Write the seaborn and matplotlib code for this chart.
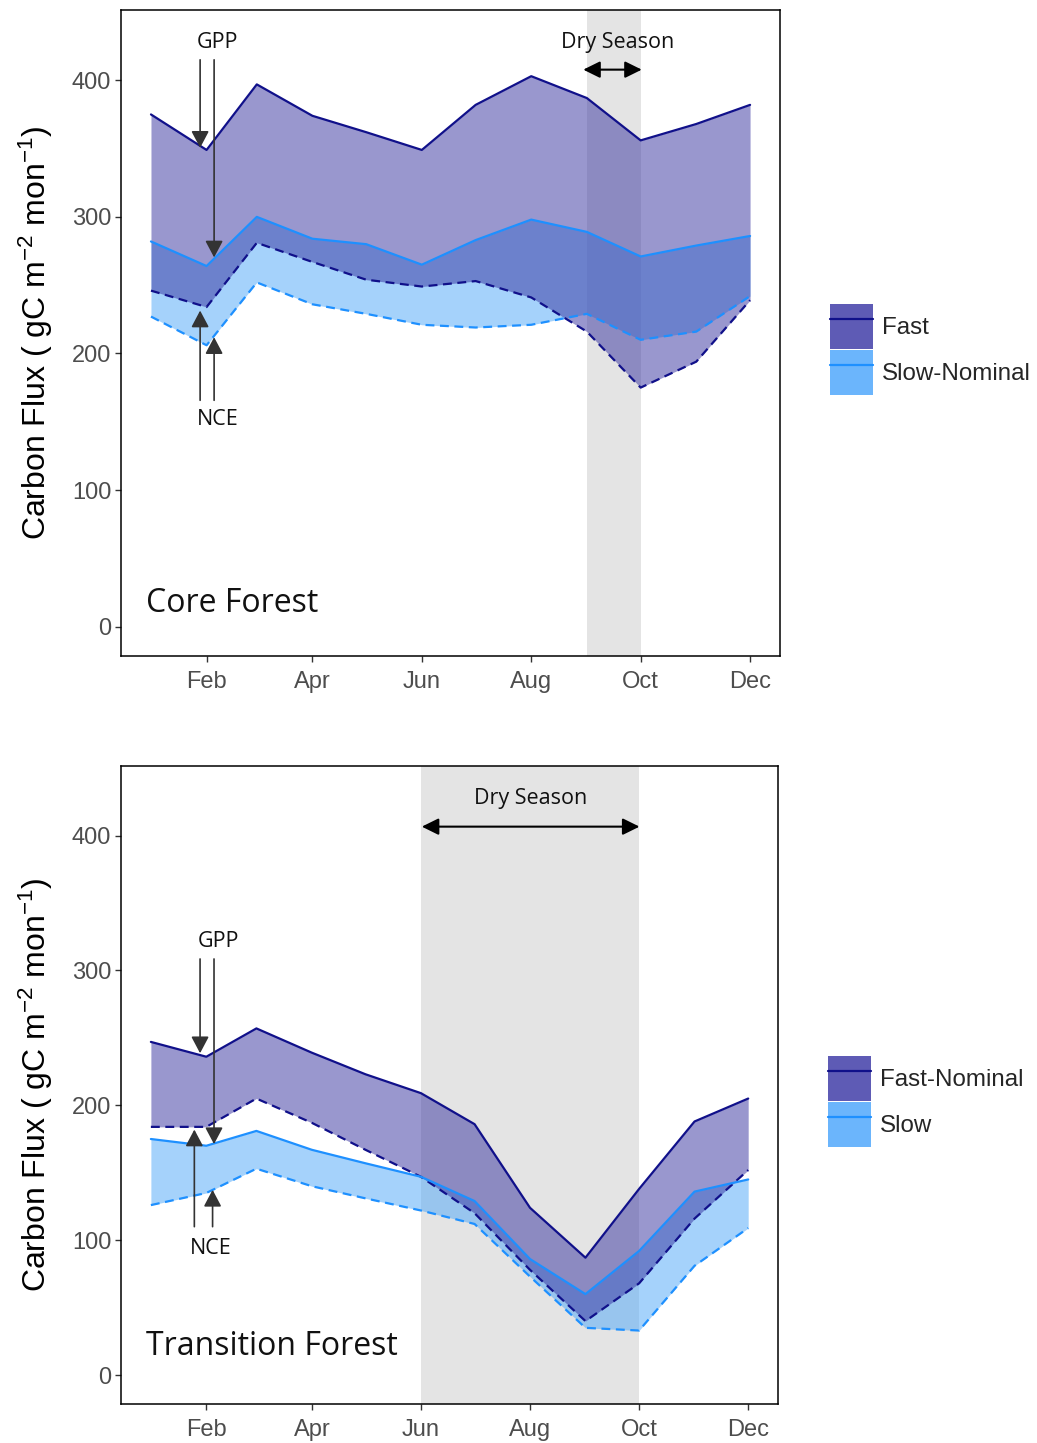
import numpy as np
import pandas as pd
import matplotlib
matplotlib.use("Agg")
import matplotlib.pyplot as plt
import seaborn as sns
from matplotlib.patches import Patch
from matplotlib.lines import Line2D

# ---------------- data ----------------
days = [0, 31, 59, 90, 120, 151, 181, 212, 243, 273, 304, 334]   # first day of each month
tick_days = [31, 90, 151, 212, 273, 334]
tick_labels = ["Feb", "Apr", "Jun", "Aug", "Oct", "Dec"]
y_ticks = [0, 100, 200, 300, 400]

core_fast_gpp = [375, 349, 397, 374, 362, 349, 382, 403, 387, 356, 368, 382]
core_fast_nce = [246, 234, 281, 267, 254, 249, 253, 241, 216, 175, 194, 239]
core_slow_gpp = [282, 264, 300, 284, 280, 265, 283, 298, 289, 271, 279, 286]
core_slow_nce = [227, 206, 252, 236, 229, 221, 219, 221, 229, 210, 216, 242]

trans_fast_gpp = [247, 236, 257, 239, 223, 209, 186, 124, 87, 138, 188, 205]
trans_fast_nce = [184, 184, 205, 187, 167, 147, 120, 78, 40, 68, 116, 152]
trans_slow_gpp = [175, 170, 181, 167, 157, 147, 129, 86, 60, 92, 136, 145]
trans_slow_nce = [126, 135, 153, 140, 131, 122, 112, 73, 35, 33, 81, 109]

core_dry = (243, 273)
trans_dry = (151, 273)

core_labels = ["Fast", "Slow-Nominal"]
trans_labels = ["Fast-Nominal", "Slow"]

# ---------------- style ----------------
sns.set_theme(style="white")
plt.rcParams["font.family"] = ["Liberation Sans", "DejaVu Sans"]
plt.rcParams["mathtext.fontset"] = "custom"
plt.rcParams["mathtext.rm"] = "Liberation Sans"
plt.rcParams["mathtext.it"] = "Liberation Sans"
plt.rcParams["mathtext.default"] = "regular"

NAVY = "#10108a"
DBLUE = "#1e90ff"
FAST_FILL = (53 / 255, 49 / 255, 159 / 255, 0.5)
SLOW_FILL = (77 / 255, 167 / 255, 249 / 255, 0.5)
FAST_KEY = "#5e5bb5"
SLOW_KEY = "#6bb5fc"
DRY = "#e4e4e4"
ANN = "Open Sans"

fig = plt.figure(figsize=(10.37, 14.43), dpi=100)
ax1 = fig.add_axes([0.1167, 0.5454, 0.6355, 0.4477])
ax2 = fig.add_axes([0.1167, 0.0270, 0.6336, 0.4421])


def make_long(fg, fn, sg, sn):
    rows = []
    for model, g, n in (("Fast", fg, fn), ("Slow", sg, sn)):
        for d, a, b in zip(days, g, n):
            rows.append((d, a, model, "GPP"))
            rows.append((d, b, model, "NCE"))
    return pd.DataFrame(rows, columns=["day", "value", "model", "flux"])


def arrow(ax, tail, tip, color="#333333", lw=1.2, style="-|>,head_length=0.85,head_width=0.45", ms=12):
    ax.annotate("", xy=tip, xytext=tail,
                arrowprops=dict(arrowstyle=style, color=color, lw=lw,
                                shrinkA=0, shrinkB=0, mutation_scale=ms))


def panel(ax, fg, fn, sg, sn, dry, labels, title, title_y):
    ax.axvspan(dry[0], dry[1], color=DRY, lw=0, zorder=0)
    ax.fill_between(days, sg, sn, color=SLOW_FILL, lw=0, zorder=1)
    ax.fill_between(days, fg, fn, color=FAST_FILL, lw=0, zorder=2)
    df = make_long(fg, fn, sg, sn)
    sns.lineplot(data=df, x="day", y="value", hue="model", style="flux",
                 palette={"Fast": NAVY, "Slow": DBLUE},
                 dashes={"GPP": "", "NCE": (4, 2.5)},
                 linewidth=1.6, errorbar=None, legend=False, ax=ax, zorder=3)
    ax.set_xlim(-16.7, 350.7)
    ax.set_ylim(-21.5, 451.5)
    ax.set_xticks(tick_days)
    ax.set_xticklabels(tick_labels)
    ax.set_yticks(y_ticks)
    ax.set_xlabel("")
    ax.set_ylabel("Carbon Flux ( gC m$^{-2}$ mon$^{-1}$)", fontsize=23, color="black")
    ax.yaxis.set_label_coords(-0.100, 0.5)
    ax.tick_params(axis="both", which="major", length=4.5, width=1.0, color="#333333",
                   labelsize=17, labelcolor="#4d4d4d", pad=2.5, bottom=True, left=True,
                   direction="out")
    ax.tick_params(axis="x", pad=6)
    for s in ax.spines.values():
        s.set_color("black")
        s.set_linewidth(1.1)
        s.set_zorder(5)
    ax.text(-2.6, title_y, title, fontsize=23, family=ANN,
            ha="left", va="baseline", color="#111111", zorder=6)
    handles = [
        (Patch(facecolor=FAST_KEY, edgecolor="none"), Line2D([], [], color=NAVY, lw=1.6)),
        (Patch(facecolor=SLOW_KEY, edgecolor="none"), Line2D([], [], color=DBLUE, lw=1.6)),
    ]
    ax.legend(handles, labels, loc="center left", bbox_to_anchor=(1.076, 0.474),
              frameon=False, fontsize=17.4, handlelength=1.78, handleheight=2.49,
              handletextpad=0.38, labelspacing=0.05, borderpad=0, borderaxespad=0)


panel(ax1, core_fast_gpp, core_fast_nce, core_slow_gpp, core_slow_nce, core_dry,
      core_labels, "Core Forest", 11)
panel(ax2, trans_fast_gpp, trans_fast_nce, trans_slow_gpp, trans_slow_nce, trans_dry,
      trans_labels, "Transition Forest", 14.5)

# ---- annotations: top panel ----
ax1.text(37.1, 423.5, "GPP", fontsize=15.5, family=ANN, ha="center", va="baseline", color="#111111", zorder=6)
arrow(ax1, (27.4, 415), (27.4, 350.6))
arrow(ax1, (35.2, 415), (35.2, 270.3))
ax1.text(37.1, 147.8, "NCE", fontsize=15.5, family=ANN, ha="center", va="baseline", color="#111111", zorder=6)
arrow(ax1, (27.4, 165.7), (27.4, 231.4))
arrow(ax1, (35.2, 165.7), (35.2, 211.9))
ax1.text(260.4, 424, "Dry Season", fontsize=15.5, family=ANN, ha="center", va="baseline", color="#111111", zorder=6)
arrow(ax1, (241.0, 407.8), (273.6, 407.8), color="black", lw=1.5,
      style="<|-|>,head_length=0.85,head_width=0.42")

# ---- annotations: bottom panel ----
ax2.text(37.7, 317.7, "GPP", fontsize=15.5, family=ANN, ha="center", va="baseline", color="#111111", zorder=6)
arrow(ax2, (27.5, 308.5), (27.5, 238.6))
arrow(ax2, (35.3, 308.5), (35.3, 171.2))
ax2.text(33.2, 89.7, "NCE", fontsize=15.5, family=ANN, ha="center", va="baseline", color="#111111", zorder=6)
arrow(ax2, (24.3, 110), (24.3, 182))
arrow(ax2, (34.5, 110), (34.5, 137.3))
ax2.text(212.4, 423.2, "Dry Season", fontsize=15.5, family=ANN, ha="center", va="baseline", color="#111111", zorder=6)
arrow(ax2, (151.5, 406.6), (273.2, 406.6), color="black", lw=1.5,
      style="<|-|>,head_length=0.85,head_width=0.42")

fig.savefig("out.png", dpi=100)
